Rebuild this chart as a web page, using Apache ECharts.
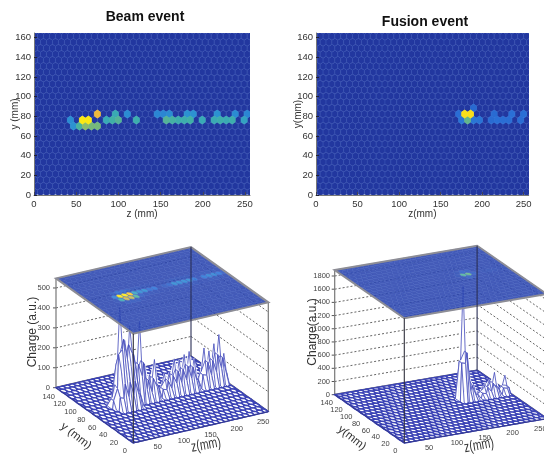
<!DOCTYPE html>
<html><head><meta charset="utf-8">
<style>html,body{margin:0;padding:0;background:#fff}#c{width:544px;height:458px;filter:blur(.45px)}</style>
<script src="https://cdn.jsdelivr.net/npm/echarts@6/dist/echarts.min.js"></script>
</head><body><div id="c"></div>
<script>
// ---------- values ----------
const zTicks3D=[50,100,150,200,250];
const yTicks3D=[0,20,40,60,80,100,120,140];
const beamChargeTicks=[0,100,200,300,400,500];
const fusionChargeTicks=[0,200,400,600,800,1000,1200,1400,1600,1800];

const beamZ=[76,97,110,143.5,150.6,158.5,179,186,214,235,249.5,
 44.7,58.5,65.6,86,93,100,120.5,155,162,169.6,176.7,183.8,197.6,211.5,218.6,225.7,233,246,
 47.4,54.6,61.7,68.8,75.9];
const beamY=[82,82,82,82,82,82,82,82,82,82,82,
 76,76,76,76,76,76,76,76,76,76,76,76,76,76,76,76,76,76,
 70,70,70,70,70];
const beamQ=[420,195,120,110,110,120,130,130,130,120,110,
 120,500,500,190,215,235,205,235,220,205,205,215,190,195,205,195,205,170,
 130,225,290,270,270];
const beamSurfQ=[385,190,120,110,110,150,170,170,150,200,140,
 110,490,320,170,400,180,190,170,170,160,180,190,150,170,190,170,170,240,
 130,190,190,200,190];

const fusionZ=[172,179.5,186.5,183,176,190,190,197,211.7,218.8,216,226,235.7,233,247.7,250];
const fusionY=[82,82,82,76,76,76,88,76,76,76,82,76,82,76,76,82];
const fusionQ=[250,1750,1750,900,300,300,230,280,240,260,240,250,260,250,250,260];
const fusionSurfQ=[180,1720,420,300,200,200,120,200,170,210,180,230,330,250,260,200];

// ---------- lattices and layout ----------
const LAT2={pitch:7.1,row:6.1,y0:3.0};
const LAT3={pitch:9.4,row:7.6,y0:3.0};
const parula=['#22379f','#2a6fd6','#2c9ad0','#3fb0a8','#86bb70','#cdbb4c','#f4ba3a','#fbe814'];
const topRamp=['#2a44ae','#2a6fd6','#2c9ad0','#3fb0a8','#86bb70','#cdbb4c','#f4ba3a','#fbe814'];

const panels=[
 {z:beamZ,y:beamY,q:beamQ,s:beamSurfQ,odd:4.1,max:500,topMax:320,ticks:beamChargeTicks,
  o:[133.3,443],zv:[135,-31.3],yv:[-77.3,-55.3],cv:[0,-109.3],cMax:548,yOff:[-8.4,8],zOff:[-2,10],cx:50},
 {z:fusionZ,y:fusionY,q:fusionQ,s:fusionSurfQ,odd:1.4,max:1800,topMax:1500,ticks:fusionChargeTicks,
  o:[404.3,443],zv:[142.4,-24.3],yv:[-69.6,-48.3],cv:[0,-124.7],cMax:1891,yOff:[-9,8],zOff:[-3,9.3],cx:330}
];
const ZMAX=256, YMAX2D=164.8, YMAX3D=142;

const rowY=(L,r)=>L.y0+L.row*r;
const rowOff=(L,p,r)=>r%2?p.odd:p.odd-L.pitch/2;
function snap(L,p,z,y){const r=Math.round((y-L.y0)/L.row);const c=Math.round((z-rowOff(L,p,r))/L.pitch);return r+','+c;}
function hitMap(L,p,vals){const m={};p.z.forEach((z,i)=>{const k=snap(L,p,z,p.y[i]);m[k]=Math.max(m[k]||0,vals[i]);});return m;}
panels.forEach(p=>{
  p.q2=hitMap(LAT2,p,p.q);p.q3=hitMap(LAT3,p,p.q);p.s3=hitMap(LAT3,p,p.s);
});
const look=(L,p,m,z,y)=>m[snap(L,p,z,y)]||0;
function lattice(L,p,yMax){
  const out=[];
  for(let r=0;rowY(L,r)<=yMax+L.row/2;r++){
    for(let c=0;c<=40;c++){
      const z=rowOff(L,p,r)+L.pitch*c;
      if(z-L.pitch/2<ZMAX) out.push([z,rowY(L,r)]);
    }
  }
  return out;
}
function neigh(L,z,y){const h=L.pitch/2,w=L.row;return [[z+h,y+w],[z+2*h,y],[z+h,y-w],[z-h,y-w],[z-2*h,y],[z-h,y+w]];}
function hexVerts(L,z,y){const h=L.pitch/2,R=L.row/1.5;return [[z,y+R],[z+h,y+R/2],[z+h,y-R/2],[z,y-R],[z-h,y-R/2],[z-h,y+R/2]];}
function proj(p,z,y,c){
  const a=Math.min(ZMAX,Math.max(0,z))/ZMAX,b=Math.min(YMAX3D,Math.max(0,y))/YMAX3D,d=c/p.cMax;
  return [p.o[0]+a*p.zv[0]+b*p.yv[0]+d*p.cv[0],p.o[1]+a*p.zv[1]+b*p.yv[1]+d*p.cv[1]];
}

const series=[],visualMaps=[];
// ---------- flat hexagon maps ----------
function addFlat(p,gi){
  const data=lattice(LAT2,p,YMAX2D).map(([z,y])=>[z,y,look(LAT2,p,p.q2,z,y)]).sort((a,b)=>a[2]-b[2]);
  series.push({type:'custom',coordinateSystem:'cartesian2d',xAxisIndex:gi,yAxisIndex:gi,clip:true,progressive:0,silent:true,animation:false,z:2,
    encode:{x:0,y:1},data,
    renderItem(params,api){
      const z=api.value(0),y=api.value(1),q=api.value(2),col=api.visual('color');
      return {type:'polygon',shape:{points:hexVerts(LAT2,z,y).map(v=>api.coord(v))},
        style:{fill:col,stroke:q>0?col:'#3550b2',lineWidth:q>0?.8:.6}};
    }});
  visualMaps.push({show:false,seriesIndex:series.length-1,dimension:2,min:0,max:p.max,inRange:{color:parula}});
}
addFlat(panels[0],0);addFlat(panels[1],1);

// ---------- 3D boxes ----------
function seg(api,a,b,st){const A=api.coord(a),B=api.coord(b);return {type:'line',shape:{x1:A[0],y1:A[1],x2:B[0],y2:B[1]},style:st};}
function addBox(p){
  const S=2;
  const common={type:'custom',coordinateSystem:'cartesian2d',xAxisIndex:S,yAxisIndex:S,progressive:0,silent:true,animation:false,z:3,encode:{x:0,y:1}};
  const T=p.cMax;
  series.push(Object.assign({},common,{data:p.ticks.map(c=>[c,0]),renderItem(params,api){
    const c=api.value(0),dot={stroke:'#666',lineWidth:1,lineDash:[2,2],fill:null};
    const L=proj(p,0,YMAX3D,c),K=proj(p,ZMAX,YMAX3D,c),Q=proj(p,ZMAX,0,c);
    return {type:'group',children:[
      c>0?seg(api,L,K,dot):null,c>0?seg(api,K,Q,dot):null,
      seg(api,[L[0]-3,L[1]],L,{stroke:'#555',lineWidth:1}),
    ].filter(Boolean)};
  }}));
  series.push(Object.assign({},common,{data:[[0,0]],renderItem(params,api){
    const grey={stroke:'#777',lineWidth:1.2},thick={stroke:'#666',lineWidth:2};
    return {type:'group',children:[
      seg(api,proj(p,0,YMAX3D,0),proj(p,0,YMAX3D,T),grey),
      seg(api,proj(p,ZMAX,0,0),proj(p,ZMAX,0,T),grey),
      seg(api,proj(p,0,YMAX3D,0),proj(p,ZMAX,YMAX3D,0),thick),
      seg(api,proj(p,ZMAX,YMAX3D,0),proj(p,ZMAX,0,0),thick),
    ]};
  }}));
  // charge surface, painted from far to near
  const cells=lattice(LAT3,p,YMAX3D).filter(([z,y])=>y-LAT3.row/1.5<YMAX3D).map(([z,y])=>{
    const h=look(LAT3,p,p.s3,z,y),n=neigh(LAT3,z,y).map(q=>look(LAT3,p,p.s3,q[0],q[1]));
    const vh=[(h+n[5]+n[0])/3,(h+n[0]+n[1])/3,(h+n[1]+n[2])/3,(h+n[2]+n[3])/3,(h+n[3]+n[4])/3,(h+n[4]+n[5])/3];
    return {z,y,h,vh,key:proj(p,z,y,0)[1]};
  }).sort((a,b)=>a.key-b.key);
  series.push(Object.assign({},common,{data:cells.map((c,i)=>[i,0]),renderItem(params,api){
    const cell=cells[api.value(0)],v=hexVerts(LAT3,cell.z,cell.y);
    const pts=v.map((q,i)=>api.coord(proj(p,q[0],q[1],cell.vh[i])));
    const flat=cell.h===0&&cell.vh.every(x=>x===0);
    if(flat) return {type:'polygon',shape:{points:pts},style:{fill:'#fff',stroke:'#3c44b6',lineWidth:1.45}};
    const C=api.coord(proj(p,cell.z,cell.y,cell.h));
    const order=[0,5,1,4,2,3];
    const kids=order.map(i=>({type:'polygon',shape:{points:[C,pts[i],pts[(i+1)%6]]},style:{fill:'#fff',stroke:'#fff',lineWidth:.3}}));
    kids.push({type:'polygon',shape:{points:pts},style:{fill:null,stroke:'#4048ba',lineWidth:.8}});
    [3,0].forEach(i=>kids.push({type:'line',shape:{x1:C[0],y1:C[1],x2:pts[i][0],y2:pts[i][1]},style:{stroke:'#4048ba',lineWidth:.8}}));
    return {type:'group',children:kids};
  }}));
  // projected colour plane at the top
  const plane=lattice(LAT3,p,YMAX3D).filter(([z,y])=>y-LAT3.row/1.5<YMAX3D).map(([z,y])=>{
    const h=look(LAT3,p,p.q3,z,y),n=neigh(LAT3,z,y).map(q=>look(LAT3,p,p.q3,q[0],q[1]));
    const v=.45*h+.55*n.reduce((a,b)=>a+b,0)/6;
    return [z,y,p.topMax*Math.pow(Math.min(1,v/p.topMax),1.7)];
  });
  series.push(Object.assign({},common,{data:plane,clip:false,renderItem(params,api){
    const z=api.value(0),y=api.value(1);
    return {type:'polygon',shape:{points:hexVerts(LAT3,z,y).map(q=>api.coord(proj(p,q[0],q[1],T)))},
      style:{fill:api.visual('color'),stroke:'#4560c0',lineWidth:.5,opacity:.88}};
  }}));
  visualMaps.push({show:false,seriesIndex:series.length-1,dimension:2,min:0,max:p.topMax,inRange:{color:topRamp}});
  // plane outline and front frame edges
  series.push(Object.assign({},common,{data:[[0,0]],renderItem(params,api){
    const a=[proj(p,0,YMAX3D,T),proj(p,ZMAX,YMAX3D,T),proj(p,ZMAX,0,T),proj(p,0,0,T)].map(q=>api.coord(q));
    return {type:'group',children:[
      {type:'polygon',shape:{points:a},style:{fill:null,stroke:'#8d8d95',lineWidth:2}},
      seg(api,proj(p,ZMAX,YMAX3D,0),proj(p,ZMAX,YMAX3D,T),{stroke:'#2a2f55',lineWidth:1.1}),
      seg(api,proj(p,0,0,0),proj(p,0,0,T),{stroke:'#30303c',lineWidth:1.1}),
      seg(api,proj(p,0,0,0),proj(p,0,YMAX3D,0),{stroke:'#353a90',lineWidth:1}),
      seg(api,proj(p,0,0,0),proj(p,ZMAX,0,0),{stroke:'#353a90',lineWidth:1}),
    ]};
  }}));
  // tick labels
  const labels=[];
  p.ticks.forEach(c=>labels.push({t:String(c),pos:()=>{const q=proj(p,0,YMAX3D,c);return [p.cx,q[1]];},align:'right'}));
  yTicks3D.forEach(y=>labels.push({t:String(y),pos:()=>{const q=proj(p,0,y,0);return [q[0]+p.yOff[0],q[1]+p.yOff[1]];},align:'center'}));
  zTicks3D.forEach(z=>labels.push({t:String(z),pos:()=>{const q=proj(p,z,0,0);return [q[0]+p.zOff[0],q[1]+p.zOff[1]];},align:'center'}));
  series.push(Object.assign({},common,{data:labels.map((l,i)=>[i,0]),renderItem(params,api){
    const l=labels[api.value(0)],P=api.coord(l.pos());
    return {type:'text',style:{x:P[0],y:P[1],text:l.t,fill:'#444',font:'7.5px "Liberation Sans"',align:l.align,verticalAlign:'middle'}};
  }}));
}
addBox(panels[0]);addBox(panels[1]);

function flatX(gi,name,gap){return {gridIndex:gi,type:'value',min:0,max:ZMAX,interval:50,z:5,name,nameLocation:'middle',nameGap:gap,nameMoveOverlap:false,
  nameTextStyle:{fontFamily:'Liberation Sans',fontSize:10,color:'#333'},
  axisLine:{show:true,onZero:false,lineStyle:{color:'#777',width:1}},axisTick:{show:true,inside:true,length:3,lineStyle:{color:'#445'}},
  splitLine:{show:false},axisLabel:{margin:4,showMaxLabel:false,fontFamily:'Liberation Sans',fontSize:9.5,color:'#333'}};}
function flatY(gi,name,gap){return {gridIndex:gi,type:'value',min:0,max:YMAX2D,interval:20,z:5,name,nameLocation:'middle',nameGap:gap,nameMoveOverlap:false,
  nameTextStyle:{fontFamily:'Liberation Sans',fontSize:10,color:'#333'},
  axisLine:{show:true,onZero:false,lineStyle:{color:'#777',width:1}},axisTick:{show:true,inside:true,length:3,lineStyle:{color:'#223'}},
  splitLine:{show:false},axisLabel:{margin:3,showMaxLabel:false,fontFamily:'Liberation Sans',fontSize:9.5,color:'#333'}};}
const hidden=gi=>({gridIndex:gi,type:'value',show:false,min:0});

const nameText=(text,x,y,rot,size,sx)=>({type:'text',x,y,rotation:rot*Math.PI/180,scaleX:sx||1,silent:true,
  style:{text,fill:'#333',font:size+'px "Liberation Sans"',align:'center',verticalAlign:'middle'}});

const chart=echarts.init(document.getElementById('c'),null,{renderer:'canvas'});
chart.setOption({
  animation:false,backgroundColor:'#fff',
  title:[
   {text:'Beam event',left:145,top:10,textAlign:'center',textStyle:{fontFamily:'Liberation Sans',fontSize:14,fontWeight:'bold',color:'#111'},padding:0},
   {text:'Fusion event',left:425,top:15,textAlign:'center',textStyle:{fontFamily:'Liberation Sans',fontSize:14,fontWeight:'bold',color:'#111'},padding:0}
  ],
  grid:[
   {left:34,top:33,width:216,height:162,show:false},
   {left:316,top:33,width:212.7,height:162,show:false},
   {left:0,top:0,width:544,height:458}
  ],
  xAxis:[flatX(0,'z (mm)',14),flatX(1,'z(mm)',14),Object.assign(hidden(2),{max:544})],
  yAxis:[flatY(0,'y (mm)',14),flatY(1,'y(mm)',13),Object.assign(hidden(2),{max:458,inverse:true})],
  visualMap:visualMaps,
  series,
  graphic:[
   nameText('Charge (a.u.)',33,332,90,12),
   nameText('y (mm)',76,436,-38,11.5),
   nameText('z(mm)',206,445,10,15,.7),
   nameText('Charge(a.u.)',313,332,90,12),
   nameText('y(mm)',352,438,-38,11.5),
   nameText('z(mm)',479,445.5,10,15,.7)
  ]
});
</script></body></html>
